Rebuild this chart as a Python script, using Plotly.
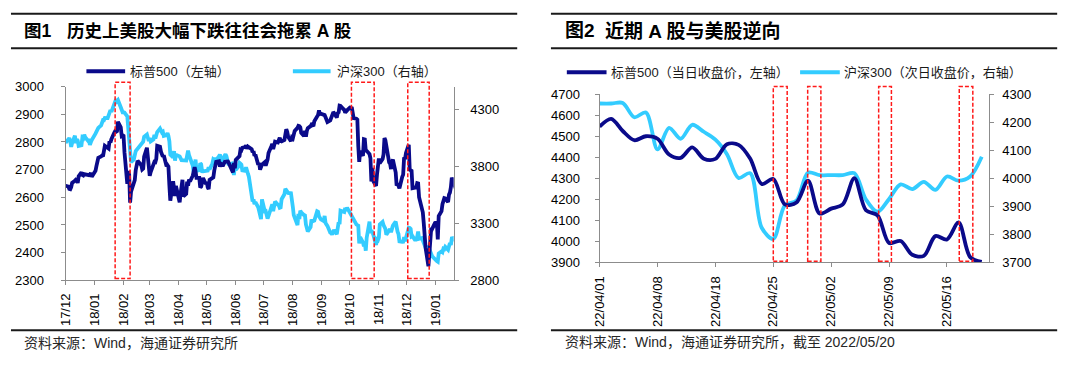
import plotly.graph_objects as go

W, H = 1080, 367


def X(px):
    return px / W


def Y(py):
    return 1 - py / H


# ---------------- Figure 1 data (2017/12 - 2019/01) ----------------
sp500_trading_days = [
    "2017-12: 01 04 05 06 07 08 11 12 13 14 15 18 19 20 21 22 26 27 28 29",
    "2018-01: 02 03 04 05 08 09 10 11 12 16 17 18 19 22 23 24 25 26 29 30 31",
    "2018-02: 01 02 05 06 07 08 09 12 13 14 15 16 20 21 22 23 26 27 28",
    "2018-03: 01 02 05 06 07 08 09 12 13 14 15 16 19 20 21 22 23 26 27 28 29",
    "2018-04: 02 03 04 05 06 09 10 11 12 13 16 17 18 19 20 23 24 25 26 27 30",
    "2018-05: 01 02 03 04 07 08 09 10 11 14 15 16 17 18 21 22 23 24 25 29 30 31",
    "2018-06: 01 04 05 06 07 08 11 12 13 14 15 18 19 20 21 22 25 26 27 28 29",
    "2018-07: 02 03 05 06 09 10 11 12 13 16 17 18 19 20 23 24 25 26 27 30 31",
    "2018-08: 01 02 03 06 07 08 09 10 13 14 15 16 17 20 21 22 23 24 27 28 29 30 31",
    "2018-09: 04 05 06 07 10 11 12 13 14 17 18 19 20 21 24 25 26 27 28",
    "2018-10: 01 02 03 04 05 08 09 10 11 12 15 16 17 18 19 22 23 24 25 26 29 30 31",
    "2018-11: 01 02 05 06 07 08 09 12 13 14 15 16 19 20 21 23 26 27 28 29 30",
    "2018-12: 03 04 06 07 10 11 12 13 14 17 18 19 20 21 24 26 27 28 31",
    "2019-01: 02 03 04 07 08 09 10 11 14 15 16 17 18 22",
]
sp500_close = [
    2642, 2639, 2630, 2629, 2637, 2652, 2660, 2664, 2662, 2652, 2676, 2690, 2681, 2679, 2684, 2683, 2680, 2682, 2688, 2674,
    2696, 2713, 2724, 2743, 2748, 2751, 2748, 2768, 2786, 2776, 2803, 2798, 2810, 2833, 2839, 2837, 2839, 2873, 2853, 2822, 2824,
    2822, 2762, 2649, 2695, 2682, 2581, 2620, 2656, 2662, 2698, 2731, 2732, 2716, 2701, 2704, 2747, 2779, 2744, 2714,
    2678, 2691, 2720, 2728, 2727, 2739, 2786, 2783, 2765, 2749, 2747, 2752, 2712, 2716, 2711, 2643, 2588, 2658, 2613, 2605, 2641,
    2582, 2614, 2644, 2663, 2604, 2613, 2657, 2642, 2664, 2657, 2678, 2707, 2709, 2694, 2670, 2670, 2635, 2639, 2667, 2670, 2648,
    2655, 2636, 2630, 2663, 2672, 2672, 2697, 2723, 2728, 2730, 2711, 2722, 2720, 2713, 2733, 2725, 2733, 2728, 2721, 2690, 2724, 2705,
    2735, 2747, 2749, 2772, 2770, 2779, 2782, 2787, 2776, 2783, 2780, 2774, 2763, 2767, 2750, 2755, 2718, 2724, 2700, 2716, 2718,
    2727, 2714, 2736, 2760, 2784, 2793, 2774, 2798, 2801, 2798, 2809, 2815, 2804, 2802, 2807, 2821, 2846, 2837, 2819, 2803, 2816,
    2813, 2827, 2840, 2851, 2858, 2857, 2853, 2833, 2821, 2840, 2819, 2840, 2850, 2857, 2863, 2861, 2857, 2875, 2897, 2898, 2914, 2901, 2902,
    2897, 2889, 2878, 2872, 2878, 2888, 2889, 2904, 2905, 2888, 2904, 2907, 2931, 2930, 2919, 2916, 2906, 2914, 2914,
    2924, 2923, 2926, 2902, 2886, 2884, 2881, 2786, 2728, 2767, 2750, 2810, 2809, 2769, 2768, 2756, 2741, 2657, 2706, 2659, 2641, 2682, 2712,
    2740, 2723, 2738, 2755, 2814, 2806, 2781, 2726, 2722, 2702, 2730, 2736, 2690, 2642, 2650, 2633, 2674, 2682, 2744, 2738, 2760,
    2790, 2700, 2696, 2633, 2637, 2636, 2651, 2650, 2600, 2546, 2546, 2507, 2467, 2417, 2351, 2468, 2489, 2486, 2507,
    2510, 2448, 2532, 2550, 2575, 2585, 2597, 2596, 2583, 2610, 2617, 2636, 2671, 2633,
]

csi300_trading_days = [
    "2017-12: 01 04 05 06 07 08 11 12 13 14 15 18 19 20 21 22 25 26 27 28 29",
    "2018-01: 02 03 04 05 08 09 10 11 12 15 16 17 18 19 22 23 24 25 26 29 30 31",
    "2018-02: 01 02 05 06 07 08 09 12 13 14 22 23 26 27 28",
    "2018-03: 01 02 05 06 07 08 09 12 13 14 15 16 19 20 21 22 23 26 27 28 29 30",
    "2018-04: 02 03 04 09 10 11 12 13 16 17 18 19 20 23 24 25 26 27",
    "2018-05: 02 03 04 07 08 09 10 11 14 15 16 17 18 21 22 23 24 25 28 29 30 31",
    "2018-06: 01 04 05 06 07 08 11 12 13 14 15 19 20 21 22 25 26 27 28 29",
    "2018-07: 02 03 04 05 06 09 10 11 12 13 16 17 18 19 20 23 24 25 26 27 30 31",
    "2018-08: 01 02 03 06 07 08 09 10 13 14 15 16 17 20 21 22 23 24 27 28 29 30 31",
    "2018-09: 03 04 05 06 07 10 11 12 13 14 17 18 19 20 21 25 26 27 28",
    "2018-10: 08 09 10 11 12 15 16 17 18 19 22 23 24 25 26 29 30 31",
    "2018-11: 01 02 05 06 07 08 09 12 13 14 15 16 19 20 21 22 23 26 27 28 29 30",
    "2018-12: 03 04 05 06 07 10 11 12 13 14 17 18 19 20 21 24 25 26 27 28",
    "2019-01: 02 03 04 07 08 09 10 11 14 15 16 17 18 21 22",
]
csi300_close = [
    4006, 4040, 4048, 4022, 3971, 4004, 4069, 4006, 4036, 4026, 3980, 3986, 4053, 4047, 4078, 4055, 4025, 4041, 3988, 4011, 4031,
    4087, 4112, 4128, 4138, 4160, 4189, 4206, 4205, 4225, 4224, 4254, 4264, 4293, 4278, 4338, 4377, 4390, 4373, 4382, 4319, 4285, 4275,
    4275, 4272, 4239, 4131, 4034, 3997, 3838, 3860, 3911, 3935, 4017, 4059, 4079, 4058, 4023,
    4048, 4019, 4037, 4077, 4046, 4083, 4101, 4132, 4111, 4098, 4104, 4067, 4074, 4092, 4066, 4020, 3904, 3880, 3934, 3850, 3898, 3899,
    3888, 3854, 3855, 3852, 3927, 3938, 3898, 3871, 3808, 3748, 3816, 3860, 3760, 3766, 3828, 3818, 3757, 3756,
    3763, 3793, 3774, 3825, 3862, 3856, 3874, 3854, 3888, 3904, 3869, 3840, 3864, 3906, 3889, 3841, 3821, 3817, 3825, 3795, 3723, 3802,
    3770, 3801, 3830, 3823, 3815, 3765, 3761, 3793, 3748, 3736, 3710, 3492, 3510, 3468, 3486, 3441, 3408, 3348, 3338, 3510,
    3407, 3409, 3386, 3342, 3365, 3459, 3468, 3407, 3481, 3492, 3464, 3459, 3437, 3440, 3512, 3555, 3603, 3592, 3577, 3567, 3564, 3517,
    3447, 3372, 3348, 3286, 3383, 3338, 3411, 3395, 3373, 3369, 3290, 3266, 3229, 3267, 3333, 3318, 3320, 3325, 3406, 3402, 3363, 3338, 3335,
    3321, 3365, 3303, 3278, 3278, 3220, 3216, 3202, 3237, 3242, 3205, 3269, 3310, 3294, 3411, 3399, 3435, 3410, 3438,
    3290, 3283, 3280, 3124, 3180, 3133, 3099, 3127, 3060, 3175, 3315, 3215, 3238, 3221, 3202, 3110, 3159, 3153,
    3177, 3290, 3312, 3285, 3265, 3252, 3200, 3249, 3250, 3223, 3265, 3280, 3315, 3243, 3227, 3206, 3142, 3138, 3139, 3178, 3143, 3173,
    3262, 3260, 3251, 3184, 3188, 3149, 3163, 3182, 3229, 3165, 3172, 3145, 3130, 3108, 3086, 3094, 3070, 3039, 3011, 3011,
    2970, 2964, 3036, 3054, 3047, 3078, 3074, 3094, 3069, 3126, 3128, 3111, 3168, 3173, 3143,
]

# highlighted periods (dashed red boxes), figure 1
fig1_boxes = [("2018-01-23", "2018-02-08"), ("2018-10-02 16:00", "2018-10-27"), ("2018-12-01 22:00", "2018-12-24 20:00")]

# ---------------- Figure 2 data (2022/04/01 - 2022/05/19) ----------------
recent_dates = [
    "22/04/01", "22/04/04", "22/04/05", "22/04/06", "22/04/07", "22/04/08", "22/04/11", "22/04/12",
    "22/04/13", "22/04/14", "22/04/18", "22/04/19", "22/04/20", "22/04/21", "22/04/22", "22/04/25",
    "22/04/26", "22/04/27", "22/04/28", "22/04/29", "22/05/02", "22/05/03", "22/05/04", "22/05/05",
    "22/05/06", "22/05/09", "22/05/10", "22/05/11", "22/05/12", "22/05/13", "22/05/16", "22/05/17",
    "22/05/18", "22/05/19",
]
sp500_same_day = [
    4546, 4583, 4525, 4481, 4500, 4488, 4413, 4397, 4447, 4393, 4392, 4462, 4459, 4394, 4272, 4296,
    4175, 4184, 4288, 4132, 4155, 4175, 4300, 4147, 4123, 3991, 4001, 3935, 3930, 4024, 4008, 4089,
    3924, 3901,
]
csi300_next_day = [
    4267, 4267, 4269, 4218, 4235, 4103, 4180, 4141, 4191, 4166, 4138, 4086, 4001, 4018, 3823, 3783,
    3903, 3920, 4020, 4011, 4011, 4011, 4018, 3924, 3880, 3926, 3978, 3961, 3987, 3958, 4006, 3991,
    4006, 4077,
]
recent_tick_labels = ["22/04/01", "22/04/08", "22/04/18", "22/04/25", "22/05/02", "22/05/09", "22/05/16"]
fig2_boxes = [(15.0, 16.2), (17.97, 19.11), (24.1, 25.2), (31.06, 32.23)]


def expand_days(rows):
    out = []
    for row in rows:
        month, days = row.split(":")
        out += [f"{month}-{d}" for d in days.split()]
    return out


sp500_dates = expand_days(sp500_trading_days)
csi300_dates = expand_days(csi300_trading_days)

NAVY = "#0A0A8A"
SKY = "#33CCFF"
RED = "#FF1A1A"
AXIS = "#8C8C8C"
FONT = "Liberation Sans, Noto Sans CJK SC, sans-serif"

fig = go.Figure()

# Figure 1 traces (CSI on base axis y, S&P on overlaying y2 so it is drawn on top)
fig.add_trace(go.Scatter(x=csi300_dates, y=csi300_close, name="沪深300（右轴）", mode="lines",
                         line=dict(color=SKY, width=3.8), xaxis="x", yaxis="y", showlegend=False))
fig.add_trace(go.Scatter(x=sp500_dates, y=sp500_close, name="标普500（左轴）", mode="lines",
                         line=dict(color=NAVY, width=3.8), xaxis="x", yaxis="y2", showlegend=False))

# Figure 2 traces
idx = list(range(len(recent_dates)))
fig.add_trace(go.Scatter(x=idx, y=csi300_next_day, name="沪深300（次日收盘价，右轴）", mode="lines",
                         line=dict(color=SKY, width=3.8, shape="spline", smoothing=0.9),
                         customdata=recent_dates, hovertemplate="%{customdata}: %{y}<extra></extra>",
                         xaxis="x2", yaxis="y3", showlegend=False))
fig.add_trace(go.Scatter(x=idx, y=sp500_same_day, name="标普500（当日收盘价，左轴）", mode="lines",
                         line=dict(color=NAVY, width=3.8, shape="spline", smoothing=0.9),
                         customdata=recent_dates, hovertemplate="%{customdata}: %{y}<extra></extra>",
                         xaxis="x2", yaxis="y4", showlegend=False))

tickfont = dict(family=FONT, size=13, color="#000000")
common_axis = dict(showgrid=False, zeroline=False, showline=True, linecolor=AXIS, linewidth=1,
                   ticks="outside", ticklen=4, tickcolor=AXIS, tickfont=tickfont)

y1_dom = [Y(285), Y(83)]
y2_dom = [Y(266), Y(91)]

fig.update_layout(
    width=W, height=H,
    margin=dict(l=0, r=0, t=0, b=0, pad=0),
    paper_bgcolor="white", plot_bgcolor="white",
    showlegend=False,
    font=dict(family=FONT, color="#000000"),
    xaxis=dict(domain=[X(58), X(449)], anchor="y", type="date",
               range=["2017-12-01", "2019-01-20"], tick0="2017-12-01", dtick="M1",
               tickformat="%y/%m", tickangle=-90, ticklabelstandoff=3, **common_axis),
    yaxis=dict(domain=y1_dom, anchor="x", side="right", range=[2800, 4500],
               tick0=2800, dtick=500, ticklabelstandoff=9, **common_axis),
    yaxis2=dict(domain=y1_dom, anchor="x", side="left", overlaying="y", range=[2300, 3000],
                dtick=100, ticklabelstandoff=14, **common_axis),
    xaxis2=dict(domain=[X(596), X(988)], anchor="y3", range=[0, 33.6],
                tickmode="array", tickvals=[recent_dates.index(t) for t in recent_tick_labels],
                ticktext=recent_tick_labels, tickangle=-90, ticklabelstandoff=4, **common_axis),
    yaxis3=dict(domain=y2_dom, anchor="x2", side="right", range=[3700, 4300],
                dtick=100, ticklabelstandoff=6, **common_axis),
    yaxis4=dict(domain=y2_dom, anchor="x2", side="left", overlaying="y3", range=[3900, 4700],
                dtick=100, ticklabelstandoff=12, **common_axis),
)

shapes = []
# dashed red boxes
for x0, x1 in fig1_boxes:
    shapes.append(dict(type="rect", xref="x", yref="paper", x0=x0, x1=x1, y0=Y(283), y1=Y(78.5),
                       line=dict(color=RED, width=1.5, dash="4px,2px"), fillcolor="rgba(0,0,0,0)", layer="above"))
for x0, x1 in fig2_boxes:
    shapes.append(dict(type="rect", xref="x2", yref="paper", x0=x0, x1=x1, y0=Y(265), y1=Y(83),
                       line=dict(color=RED, width=1.5, dash="4px,2px"), fillcolor="rgba(0,0,0,0)", layer="above"))

# panel frame lines (title bars and source line)
for xa, xb in [(3, 513), (547, 1057)]:
    for py in (7, 43, 337):
        shapes.append(dict(type="line", xref="paper", yref="paper", x0=X(xa), x1=X(xb), y0=Y(py), y1=Y(py),
                           line=dict(color="#1A1A1A", width=2)))

# legend samples
legend_items = [
    (79, 118, 67, NAVY, "标普500（左轴）", 121),
    (287, 325, 67, SKY, "沪深300（右轴）", 329),
    (563, 603, 68, NAVY, "标普500（当日收盘价，左轴）", 605),
    (798, 838, 68, SKY, "沪深300（次日收盘价，右轴）", 840),
]
annotations = []
for xa, xb, py, col, label, tx in legend_items:
    shapes.append(dict(type="line", xref="paper", yref="paper", x0=X(xa), x1=X(xb), y0=Y(py), y1=Y(py),
                       line=dict(color=col, width=4)))
    annotations.append(dict(xref="paper", yref="paper", x=X(tx), y=Y(py), xanchor="left", yanchor="middle",
                            text=label, showarrow=False, font=dict(family=FONT, size=13, color="#1A1A1A")))

# titles
titles = [
    (14, 25, "<b>图1</b>", 17.5),
    (57, 25, "<b>历史上美股大幅下跌往往会拖累 A 股</b>", 17.5),
    (559, 25, "<b>图2</b>", 19),
    (599, 25, "<b>近期 A 股与美股逆向</b>", 19),
]
for px, py, txt, sz in titles:
    annotations.append(dict(xref="paper", yref="paper", x=X(px), y=Y(py), xanchor="left", yanchor="middle",
                            text=txt, showarrow=False, font=dict(family=FONT, size=sz, color="#000000")))

# sources
sources = [
    (14, 350, "资料来源：Wind，海通证券研究所"),
    (559, 349, "资料来源：Wind，海通证券研究所，截至 2022/05/20"),
]
for px, py, txt in sources:
    annotations.append(dict(xref="paper", yref="paper", x=X(px), y=Y(py), xanchor="left", yanchor="middle",
                            text=txt, showarrow=False, font=dict(family=FONT, size=14, color="#262626")))

fig.update_layout(shapes=shapes, annotations=annotations)

fig.write_html(
    "out.html",
    config={"displayModeBar": False},
    post_script="document.body.style.margin='0';document.body.style.padding='0';"
                "document.body.style.overflow='hidden';",
)
